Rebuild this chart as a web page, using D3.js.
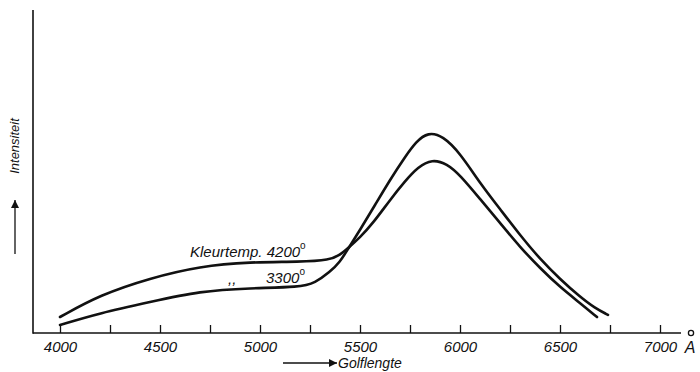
<!DOCTYPE html>
<html>
<head>
<meta charset="utf-8">
<script src="https://cdn.jsdelivr.net/npm/d3@7/dist/d3.min.js"></script>
<style>
  html, body { margin: 0; padding: 0; background: #fff; }
  svg { display: block; }
  text { font-family: "Liberation Sans", Arial, sans-serif; font-style: italic; fill: #111; }
</style>
</head>
<body>
<svg id="chart" width="700" height="372"></svg>
<script>
// Wavelength (Å) and relative intensity (arbitrary units, 0-100)
const wavelengths4200 = [4000, 4200, 4450, 4700, 4950, 5200, 5350, 5400, 5440, 5500, 5565, 5650, 5725, 5790, 5860, 5935, 6000, 6100, 6200, 6300, 6400, 6500, 6600, 6685];
const intensity4200   = [4.95, 11.8, 17.0, 20.7, 22.0, 22.0, 22.6, 24.2, 26.3, 29.6, 34.0, 41.2, 47.0, 51.4, 53.8, 52.4, 48.9, 41.5, 34.1, 26.6, 20.1, 14.2, 9.3, 4.95];

const wavelengths3300 = [4000, 4200, 4450, 4700, 4950, 5200, 5275, 5350, 5400, 5440, 5500, 5575, 5650, 5725, 5780, 5840, 5915, 6000, 6100, 6200, 6300, 6400, 6500, 6600, 6675, 6740];
const intensity3300   = [2.5, 6.2, 9.6, 13.0, 13.9, 14.2, 15.5, 18.9, 22.0, 26.0, 31.9, 39.6, 47.4, 54.5, 59.2, 62.2, 61.0, 55.7, 46.4, 38.4, 30.3, 22.9, 16.7, 11.2, 7.7, 5.6];

const tickValues = [4000, 4250, 4500, 4750, 5000, 5250, 5500, 5750, 6000, 6250, 6500, 6750, 7000];
const tickLabels = ["4000", "", "4500", "", "5000", "", "5500", "", "6000", "", "6500", "", "7000"];

const svg = d3.select("#chart");
const x = d3.scaleLinear().domain([4000, 7000]).range([60, 660]);
const y = d3.scaleLinear().domain([0, 100]).range([333, 10]);

// Axes frame
const x0 = 33, xEnd = 681;
svg.append("line").attr("x1", x0).attr("x2", xEnd).attr("y1", y(0)).attr("y2", y(0))
  .attr("stroke", "#111").attr("stroke-width", 1.6);
svg.append("line").attr("x1", x0).attr("x2", x0).attr("y1", y(0) + 0.8).attr("y2", y(100))
  .attr("stroke", "#111").attr("stroke-width", 1.6);

// X axis ticks (inward) and labels
const xAxis = d3.axisBottom(x)
  .tickValues(tickValues)
  .tickFormat((d, i) => tickLabels[i])
  .tickSize(-8)
  .tickSizeOuter(0)
  .tickPadding(8);
const gx = svg.append("g").attr("transform", `translate(0,${y(0)})`).call(xAxis);
gx.select(".domain").remove();
gx.selectAll(".tick line").attr("stroke", "#111").attr("stroke-width", 1.3);
gx.selectAll(".tick text")
  .attr("font-family", "Liberation Sans, Arial, sans-serif")
  .attr("font-style", "italic")
  .attr("font-size", 15)
  .attr("fill", "#111");

// Angstrom unit: A with detached ring above
svg.append("text").attr("x", 690).attr("y", 353).attr("text-anchor", "middle")
  .attr("font-size", 16).text("A");
svg.append("circle").attr("cx", 691).attr("cy", 333).attr("r", 2.6)
  .attr("fill", "none").attr("stroke", "#111").attr("stroke-width", 1.3);

// Curves
const line = d3.line()
  .x(d => x(d[0]))
  .y(d => y(d[1]))
  .curve(d3.curveBasis);

const data4200 = wavelengths4200.map((w, i) => [w, intensity4200[i]]);
const data3300 = wavelengths3300.map((w, i) => [w, intensity3300[i]]);

[data4200, data3300].forEach(d => {
  svg.append("path").datum(d).attr("d", line)
    .attr("fill", "none").attr("stroke", "#111").attr("stroke-width", 2.6)
    .attr("stroke-linecap", "round").attr("stroke-linejoin", "round");
});

// Curve labels
const lab1 = svg.append("text").attr("x", 190).attr("y", 257).attr("font-size", 15);
lab1.append("tspan").text("Kleurtemp. 4200");
lab1.append("tspan").attr("dy", -8).attr("font-size", 10).attr("font-style", "normal").text("o");

svg.append("text").attr("x", 228).attr("y", 284).attr("font-size", 15).text(",,");
const lab2 = svg.append("text").attr("x", 266).attr("y", 283).attr("font-size", 15);
lab2.append("tspan").text("3300");
lab2.append("tspan").attr("dy", -8).attr("font-size", 10).attr("font-style", "normal").text("o");

// Arrow marker
const defs = svg.append("defs");
defs.append("marker").attr("id", "arr").attr("viewBox", "0 0 10 10")
  .attr("refX", 10).attr("refY", 5).attr("markerWidth", 12).attr("markerHeight", 8)
  .attr("markerUnits", "userSpaceOnUse").attr("orient", "auto")
  .append("path").attr("d", "M0,0 L10,5 L0,10 Z").attr("fill", "#111");

// X axis title with arrow
svg.append("line").attr("x1", 283).attr("x2", 337).attr("y1", 363).attr("y2", 363)
  .attr("stroke", "#111").attr("stroke-width", 1.3).attr("marker-end", "url(#arr)");
svg.append("text").attr("x", 338).attr("y", 368).attr("font-size", 14).text("Golflengte");

// Y axis title with arrow
svg.append("line").attr("x1", 15).attr("x2", 15).attr("y1", 254).attr("y2", 200)
  .attr("stroke", "#111").attr("stroke-width", 1.3).attr("marker-end", "url(#arr)");
svg.append("text").attr("transform", "translate(19,146) rotate(-90)")
  .attr("text-anchor", "middle").attr("font-size", 13).text("Intensiteit");
</script>
</body>
</html>
